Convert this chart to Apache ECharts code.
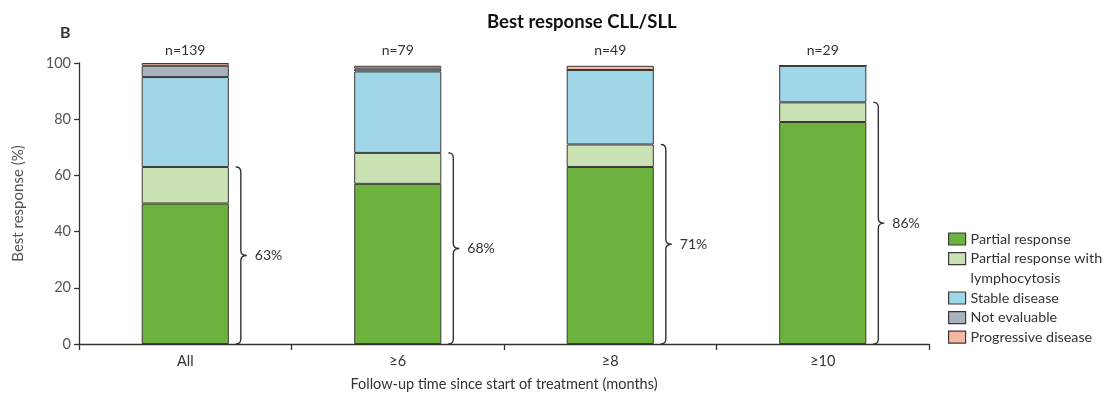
<!DOCTYPE html>
<html>
<head>
<meta charset="utf-8">
<script src="https://cdn.jsdelivr.net/npm/echarts@6/dist/echarts.min.js"></script>
<style>
  html, body { margin: 0; padding: 0; background: #fff; }
  #chart { width: 1103px; height: 395px; }
</style>
</head>
<body>
<div id="chart"></div>
<script>
// Follow-up groups and patient counts
const categories = ['All', '≥6', '≥8', '≥10'];
const nLabels = ['n=139', 'n=79', 'n=49', 'n=29'];

// Best response shares (%) per group
const partialResponse = [50, 57, 63, 79];
const partialResponseLympho = [13, 11, 8, 7];
const stableDisease = [32, 29, 26.5, 13];
const notEvaluable = [4, 1, 0, 0];
const progressiveDisease = [1, 1, 1.5, 0];

const yTicks = [0, 20, 40, 60, 80, 100];

const FONT = 'Lato, "Open Sans", sans-serif';
const EDGE = '#3a3a3a';
const BAR_FRACTION = 0.41;
const LINE_H = 19.6;

const seriesDefs = [
  { name: 'Partial response', data: partialResponse, color: '#6cb23d' },
  { name: 'Partial response with lymphocytosis', data: partialResponseLympho, color: '#cbe2b5' },
  { name: 'Stable disease', data: stableDisease, color: '#9fd6e8' },
  { name: 'Not evaluable', data: notEvaluable, color: '#a9b3bf' },
  { name: 'Progressive disease', data: progressiveDisease, color: '#f4b7a0' }
];

// Overall response rate = partial response + partial response with lymphocytosis
const responseTotals = partialResponse.map((v, i) => [i, v + partialResponseLympho[i]]);

const barSeries = seriesDefs.map(s => ({
  type: 'bar',
  name: s.name,
  stack: 'resp',
  data: s.data,
  barWidth: (BAR_FRACTION * 100) + '%',
  itemStyle: { color: s.color, borderColor: EDGE, borderWidth: 1 },
  emphasis: { disabled: true },
  animation: false
}));

// Curly brace to the right of each bar spanning the responders
const braceSeries = {
  type: 'custom',
  name: 'ORR',
  data: responseTotals,
  animation: false,
  silent: true,
  renderItem: function (params, api) {
    const idx = api.value(0);
    const total = api.value(1);
    const base = api.coord([idx, 0]);
    const top = api.coord([idx, total]);
    const halfBar = api.size([1, 0])[0] * BAR_FRACTION / 2;
    const L = base[0] + halfBar + 12;
    const yb = base[1];
    const yt = top[1];
    const ym = (yb + yt) / 2;
    const r = 5;
    const path =
      'M' + (L - r) + ',' + yt +
      ' Q' + L + ',' + yt + ' ' + L + ',' + (yt + r) +
      ' L' + L + ',' + (ym - r) +
      ' Q' + L + ',' + ym + ' ' + (L + 6) + ',' + ym +
      ' Q' + L + ',' + ym + ' ' + L + ',' + (ym + r) +
      ' L' + L + ',' + (yb - r) +
      ' Q' + L + ',' + yb + ' ' + (L - r) + ',' + yb;
    return {
      type: 'group',
      children: [
        {
          type: 'path',
          shape: { pathData: path },
          style: { fill: 'none', stroke: '#333', lineWidth: 1.4 }
        },
        {
          type: 'text',
          x: L + 14,
          y: ym,
          style: {
            text: Math.round(total) + '%',
            fill: '#333',
            font: '14px ' + FONT,
            verticalAlign: 'middle',
            align: 'left'
          }
        }
      ]
    };
  }
};

const legendText = { color: '#333', fontSize: 14.3, fontFamily: FONT, lineHeight: LINE_H };

const legendCommon = {
  orient: 'vertical',
  left: 948,
  padding: 0,
  itemWidth: 17,
  itemHeight: 12,
  icon: 'rect',
  selectedMode: false,
  itemStyle: { borderColor: EDGE, borderWidth: 1.2 },
  textStyle: legendText
};

const option = {
  backgroundColor: '#fff',
  animation: false,
  title: [
    {
      text: 'Best response CLL/SLL',
      left: 482, top: 8,
      textStyle: { fontSize: 18.5, fontWeight: 'bold', fontFamily: FONT, color: '#111' }
    },
    {
      text: 'B',
      left: 55, top: 20,
      textStyle: { fontSize: 16, fontWeight: 'bold', fontFamily: FONT, color: '#333' }
    }
  ],
  legend: [
    Object.assign({}, legendCommon, {
      top: 239 - LINE_H / 2,
      itemGap: -LINE_H,
      formatter: function (name) {
        // leading blank line keeps the swatch level with the first line of text
        return name === 'Partial response with lymphocytosis'
          ? ' \nPartial response with\nlymphocytosis' : name;
      },
      data: ['Partial response', 'Partial response with lymphocytosis']
    }),
    Object.assign({}, legendCommon, {
      top: 298 - LINE_H / 2,
      itemGap: 0,
      data: ['Stable disease', 'Not evaluable', 'Progressive disease']
    })
  ],
  grid: { left: 79, right: 174, top: 63, bottom: 51, outerBoundsMode: 'none', containLabel: false },
  xAxis: [
    {
      type: 'category',
      data: categories,
      boundaryGap: true,
      name: 'Follow-up time since start of treatment (months)',
      nameLocation: 'middle',
      nameGap: 33,
      nameTextStyle: { fontSize: 14.5, fontFamily: FONT, color: '#333' },
      axisLine: { lineStyle: { color: '#333', width: 1.3 } },
      axisTick: { show: true, inside: false, length: 6, alignWithLabel: false, lineStyle: { color: '#333', width: 1.3 } },
      axisLabel: { margin: 10, fontSize: 14.5, fontFamily: FONT, color: '#333' },
      splitLine: { show: false }
    },
    {
      type: 'category',
      data: nLabels,
      position: 'top',
      axisLine: { show: false },
      axisTick: { show: false },
      axisLabel: { margin: 6, fontSize: 14, fontFamily: FONT, color: '#333' },
      splitLine: { show: false }
    }
  ],
  yAxis: {
    type: 'value',
    min: yTicks[0],
    max: yTicks[yTicks.length - 1],
    interval: 20,
    name: 'Best response (%)',
    nameLocation: 'middle',
    nameGap: 53,
    nameTextStyle: { fontSize: 15, fontFamily: FONT, color: '#555' },
    axisLine: { show: true, lineStyle: { color: '#333', width: 1.3 } },
    axisTick: { show: true, length: 5, lineStyle: { color: '#333', width: 1.3 } },
    axisLabel: { margin: 8, fontSize: 14.5, fontFamily: FONT, color: '#555' },
    splitLine: { show: false }
  },
  series: barSeries.concat([braceSeries])
};

const chart = echarts.init(document.getElementById('chart'), null, { renderer: 'canvas' });
chart.setOption(option);
</script>
</body>
</html>
